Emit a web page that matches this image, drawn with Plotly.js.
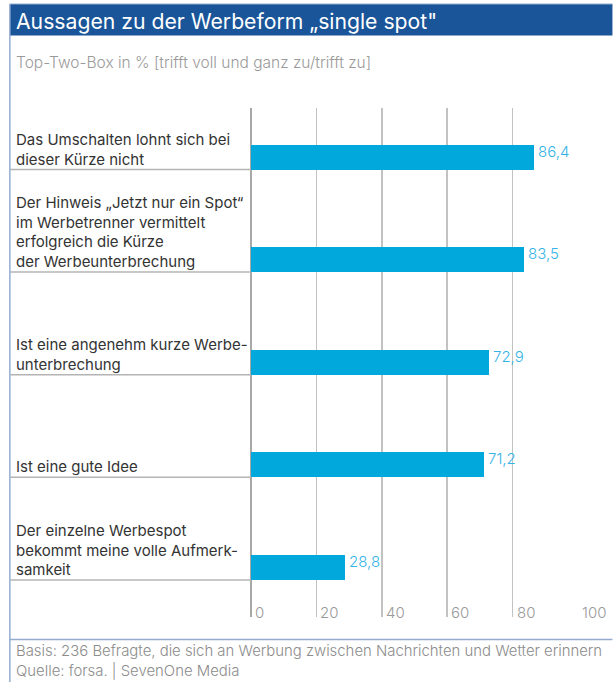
<!DOCTYPE html>
<html>
<head>
<meta charset="utf-8">
<script src="https://cdn.plot.ly/plotly-3.0.1.min.js"></script>
<style>html,body{margin:0;padding:0;background:#fff;}#chart{width:613px;height:682px;}</style>
</head>
<body>
<div id="chart"></div>
<script>
// ---- data ----
var categories = [
  "Das Umschalten lohnt sich bei<br>dieser Kürze nicht",
  "Der Hinweis „Jetzt nur ein Spot“<br>im Werbetrenner vermittelt<br>erfolgreich die Kürze<br>der Werbeunterbrechung",
  "Ist eine angenehm kurze Werbe-<br>unterbrechung",
  "Ist eine gute Idee",
  "Der einzelne Werbespot<br>bekommt meine volle Aufmerk-<br>samkeit"
];
var values = [86.4, 83.5, 72.9, 71.2, 28.8];
var valueLabels = ["86,4", "83,5", "72,9", "71,2", "28,8"];
var tickValues = [0, 20, 40, 60, 80, 100];
var tickLabels = ["0", "20", "40", "60", "80", "100"];
var titleText = "Aussagen zu der Werbeform „single spot\"";
var subtitleText = "Top-Two-Box in % [trifft voll und ganz zu/trifft zu]";
var footerLines = [
  "Basis: 236 Befragte, die sich an Werbung zwischen Nachrichten und Wetter erinnern",
  "Quelle: forsa. | SevenOne Media"
];

// ---- layout geometry ----
var W = 613, H = 682;
var mL = 251, mR = 34.5, mT = 108, mB = 65;
var plotW = W - mL - mR, plotH = H - mT - mB;
function px(x) { return (x - mL) / plotW; }
function py(y) { return (H - mB - y) / plotH; }
var rowPx = 102.6, barPx = 25;
var yTop = 0.5 - (169.5 - mT) / rowPx;
var yBot = yTop + plotH / rowPx;
var barW = barPx / rowPx;
var idx = categories.map(function (c, i) { return i; });

var font = "Inter, 'Open Sans', sans-serif";
var blue = "#00a8dc";
var frameBlue = "#93acd0";

var trace = {
  type: "bar",
  orientation: "h",
  x: values,
  y: idx,
  width: barW,
  offset: 0.5 - barW,
  marker: { color: blue, line: { width: 0 } },
  hoverinfo: "skip"
};

var shapes = [
  { type: "rect", xref: "paper", yref: "paper", x0: px(9.5), x1: px(613), y0: py(4), y1: py(35.5),
    fillcolor: "#1a5599", line: { width: 0 }, layer: "below" },
  { type: "line", xref: "paper", yref: "paper", x0: px(9.5), x1: px(613), y0: py(4), y1: py(4),
    line: { color: frameBlue, width: 1.2 } },
  { type: "line", xref: "paper", yref: "paper", x0: px(9.5), x1: px(9.5), y0: py(4), y1: py(682),
    line: { color: frameBlue, width: 1.5 } },
  { type: "line", xref: "paper", yref: "paper", x0: px(9.5), x1: px(613), y0: py(639.5), y1: py(639.5),
    line: { color: frameBlue, width: 1.5 } }
];
idx.forEach(function (i) {
  var yy = mT + (i + 0.5 - yTop) * rowPx;
  shapes.push({ type: "line", xref: "paper", yref: "paper", x0: px(10), x1: 0, y0: py(yy), y1: py(yy),
    line: { color: "#b4b4b4", width: 1.5 } });
});

var annotations = [];
annotations.push({ xref: "paper", yref: "paper", x: px(14), y: py(21), xanchor: "left", yanchor: "middle",
  text: titleText, showarrow: false, font: { family: font, size: 21.2, color: "#ffffff" } });
annotations.push({ xref: "paper", yref: "paper", x: px(14), y: py(62), xanchor: "left", yanchor: "middle",
  text: subtitleText, showarrow: false, font: { family: font, size: 15.5, color: "#9a9a9a", weight: 300 } });
footerLines.forEach(function (t, k) {
  annotations.push({ xref: "paper", yref: "paper", x: px(14), y: py(651 + 20 * k), xanchor: "left", yanchor: "middle",
    text: t, showarrow: false, font: { family: font, size: 14.9, color: "#8c8c8c", weight: 300 } });
});
categories.forEach(function (c, i) {
  annotations.push({ xref: "paper", yref: "y", x: px(13.5), y: i + 0.5, xanchor: "left", yanchor: "bottom",
    yshift: -1, align: "left", text: c, showarrow: false, font: { family: font, size: 15, color: "#333333" } });
});
values.forEach(function (v, i) {
  annotations.push({ xref: "x", yref: "y", x: v, y: i + 0.5 - barW / 2, xanchor: "left", yanchor: "middle",
    xshift: 2, yshift: 6, text: valueLabels[i], showarrow: false, font: { family: font, size: 15, color: "#35b3e6", weight: 300 } });
});
tickValues.forEach(function (t, k) {
  annotations.push({ xref: "x", yref: "paper", x: t, y: py(612), xanchor: "left", yanchor: "middle",
    xshift: 2, text: tickLabels[k], showarrow: false, font: { family: font, size: 15, color: "#9a9a9a", weight: 300 } });
});

var layout = {
  width: W, height: H,
  margin: { l: mL, r: mR, t: mT, b: mB, pad: 0 },
  paper_bgcolor: "#ffffff", plot_bgcolor: "#ffffff",
  showlegend: false,
  bargap: 0,
  xaxis: { range: [0, 100], tickvals: tickValues, showticklabels: false, ticks: "",
    showgrid: true, gridcolor: "#c2c2c2", gridwidth: 1.5,
    zeroline: true, zerolinecolor: "#a8a8a8", zerolinewidth: 1.5,
    showline: false, fixedrange: true },
  yaxis: { range: [yBot, yTop], showticklabels: false, ticks: "", showgrid: false,
    zeroline: false, showline: false, fixedrange: true },
  shapes: shapes,
  annotations: annotations
};

Plotly.newPlot("chart", [trace], layout, { displayModeBar: false, staticPlot: true });
</script>
</body>
</html>
